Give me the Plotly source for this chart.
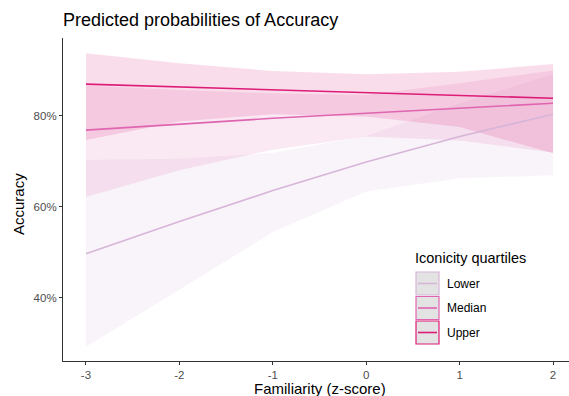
import plotly.graph_objects as go

# ---- data (percent) ----
familiarity = [-3, -2, -1, 0, 1, 2]
groups = ["Lower", "Median", "Upper"]

lower_pred = [49.7, 56.8, 63.6, 69.9, 75.5, 80.4]
lower_lo   = [29.3, 41.8, 54.5, 63.4, 66.3, 67.0]
lower_hi   = [70.3, 70.6, 71.9, 75.6, 82.8, 89.2]

median_pred = [76.9, 78.2, 79.5, 80.6, 81.7, 82.8]
median_lo   = [62.2, 68.1, 72.6, 75.5, 74.6, 72.0]
median_hi   = [86.7, 85.7, 85.0, 84.6, 87.2, 90.0]

upper_pred = [87.0, 86.4, 85.8, 85.2, 84.6, 83.9]
upper_lo   = [74.7, 78.8, 80.4, 79.9, 77.6, 71.8]
upper_hi   = [93.8, 91.6, 89.9, 89.2, 89.7, 91.4]

x_ticks = [-3, -2, -1, 0, 1, 2]
y_ticks = [40, 60, 80]

colors = {"Lower": (215, 181, 216), "Median": (223, 101, 176), "Upper": (221, 28, 119)}
series = {
    "Lower": (lower_pred, lower_lo, lower_hi),
    "Median": (median_pred, median_lo, median_hi),
    "Upper": (upper_pred, upper_lo, upper_hi),
}

W, H = 569, 396
L, R, T, B = 63, 0, 38, 35
PW, PH = W - L - R, H - T - B

def px(xp):
    return (xp - L) / PW

def py(yp):
    return (H - B - yp) / PH

def rgb(c, a=1.0):
    return f"rgba({c[0]},{c[1]},{c[2]},{a})"

fig = go.Figure()

for g in groups:
    pred, lo, hi = series[g]
    fig.add_trace(go.Scatter(
        x=familiarity + familiarity[::-1],
        y=hi + lo[::-1],
        fill="toself", fillcolor=rgb(colors[g], 0.15),
        line=dict(width=0), mode="lines", hoverinfo="skip", showlegend=False))

for g in groups:
    pred, lo, hi = series[g]
    fig.add_trace(go.Scatter(
        x=familiarity, y=pred, mode="lines",
        line=dict(color=rgb(colors[g]), width=1.6), name=g, showlegend=False))

font = "Liberation Sans, Arial, sans-serif"

fig.update_layout(
    width=W, height=H,
    margin=dict(l=L, r=R, t=T, b=B),
    paper_bgcolor="white", plot_bgcolor="white",
    font=dict(family=font, color="#000000"),
    title=dict(text="Predicted probabilities of Accuracy", x=px(63), xref="paper",
               xanchor="left", y=1 - 19.5 / H, yref="container", yanchor="middle",
               font=dict(size=18, color="#000000", family=font)),
    xaxis=dict(range=[-3.246, 2.171], tickvals=x_ticks, ticktext=[str(v) for v in x_ticks],
               showline=True, linecolor="#333333", linewidth=1.1,
               ticks="outside", ticklen=3, tickcolor="#333333", tickwidth=1.1,
               showgrid=False, zeroline=False,
               tickfont=dict(size=11.5, color="#4D4D4D", family=font)),
    yaxis=dict(range=[26.15, 97.14], tickvals=y_ticks, ticktext=[f"{v}%" for v in y_ticks],
               showline=True, linecolor="#333333", linewidth=1.1,
               ticks="outside", ticklen=3, tickcolor="#333333", tickwidth=1.1,
               showgrid=False, zeroline=False,
               tickfont=dict(size=11.5, color="#4D4D4D", family=font)),
    showlegend=False,
)

annotations = [
    dict(text="Familiarity (z-score)", x=px(320), y=py(388.5), xref="paper", yref="paper",
         showarrow=False, font=dict(size=15, color="#000000", family=font),
         xanchor="center", yanchor="middle"),
    dict(text="Accuracy", x=px(19), y=py(204), xref="paper", yref="paper", textangle=-90,
         showarrow=False, font=dict(size=15, color="#000000", family=font),
         xanchor="center", yanchor="middle"),
    dict(text="Iconicity quartiles", x=px(413), y=py(258), xref="paper", yref="paper",
         showarrow=False, font=dict(size=14.5, color="#000000", family=font),
         xanchor="left", yanchor="middle"),
]

shapes = []
key_x0, key_x1 = 416, 439
key_tops = [272, 296.5, 321]
key_h = 23
for g, top in zip(groups, key_tops):
    c = colors[g]
    shapes.append(dict(type="rect", xref="paper", yref="paper",
                       x0=px(key_x0), x1=px(key_x1), y0=py(top + key_h), y1=py(top),
                       fillcolor="#E3E3E3", line=dict(color=rgb(c), width=1.2), layer="above"))
    shapes.append(dict(type="line", xref="paper", yref="paper",
                       x0=px(key_x0 + 2), x1=px(key_x1 - 2),
                       y0=py(top + key_h / 2), y1=py(top + key_h / 2),
                       line=dict(color=rgb(c), width=1.6), layer="above"))
    annotations.append(dict(text=g, x=px(445), y=py(top + key_h / 2), xref="paper", yref="paper",
                            showarrow=False, font=dict(size=12, color="#000000", family=font),
                            xanchor="left", yanchor="middle"))

fig.update_layout(annotations=annotations, shapes=shapes)

fig.write_html("out.html")
